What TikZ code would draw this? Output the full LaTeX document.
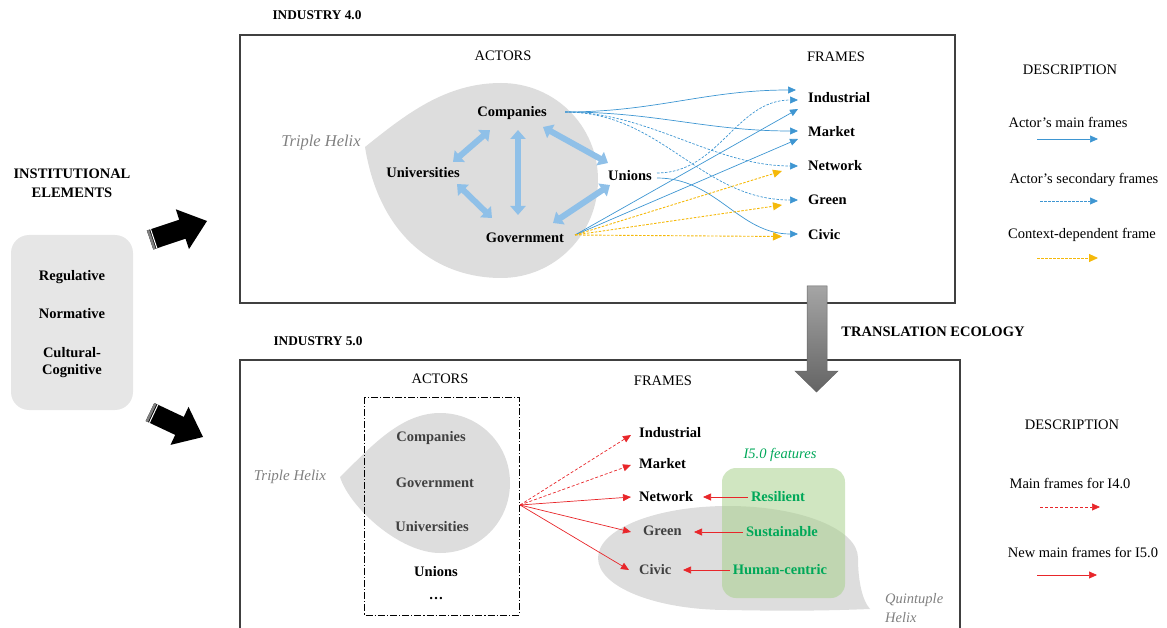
\documentclass[tikz,border=0pt]{standalone}
\usepackage{fontspec}
\setmainfont{Liberation Serif}
\usetikzlibrary{arrows.meta,calc}

\definecolor{helixgray}{RGB}{221,221,221}
\definecolor{boxgray}{RGB}{230,230,230}
\definecolor{linkblue}{RGB}{143,192,232}
\definecolor{frameblue}{RGB}{62,150,210}
\definecolor{ctxyellow}{RGB}{245,185,10}
\definecolor{newred}{RGB}{232,38,42}
\definecolor{featgreen}{RGB}{0,168,89}
\definecolor{featfill}{RGB}{169,209,142}
\definecolor{darktext}{RGB}{64,64,64}
\definecolor{helixtext}{RGB}{128,128,128}
\definecolor{framegray}{RGB}{64,64,64}
\definecolor{arrowtop}{RGB}{165,165,165}
\definecolor{arrowbot}{RGB}{100,100,100}

\tikzset{
  lbl/.style={font=\fontsize{14.5}{17}\selectfont, inner sep=0pt},
  blbl/.style={font=\fontsize{14.5}{17}\selectfont\bfseries, inner sep=0pt},
  heading/.style={font=\fontsize{13.3}{16}\selectfont\bfseries, inner sep=0pt},
  helixlbl/.style={font=\fontsize{15}{18}\selectfont\itshape, text=helixtext, inner sep=0pt},
  featlbl/.style={blbl, text=featgreen},
  link/.style={linkblue, line width=6pt,
    {Triangle[length=9pt,width=15pt]}-{Triangle[length=9pt,width=15pt]}},
  mainf/.style={frameblue, line width=0.7pt, -{Triangle[length=8pt,width=7pt]}},
  secf/.style={mainf, dash pattern=on 2.5pt off 1.5pt},
  ctxf/.style={ctxyellow, line width=0.9pt, dash pattern=on 2.5pt off 1.5pt,
    -{Triangle[length=9pt,width=8pt]}},
  redm/.style={newred, line width=0.7pt, -{Triangle[length=8pt,width=7pt]}},
  redd/.style={redm, dash pattern=on 3pt off 2pt},
  panel/.style={draw=framegray, line width=1.2pt},
}

\begin{document}
\begin{tikzpicture}[x=1pt,y=-1pt]
\useasboundingbox (0,0) rectangle (1167,628);

% ---------- panels ----------
\draw[panel] (240,35) rectangle (955,303);
\draw[panel] (240,629) -- (240,360) -- (960,360) -- (960,629);
\node[heading] (h4) at (317,15) {INDUSTRY 4.0};
\node[heading] (h5) at (318,341) {INDUSTRY 5.0};

% ---------- institutional elements ----------
\node[blbl, align=center] (inst) at (72,183) {INSTITUTIONAL\\[2pt]ELEMENTS};
\fill[boxgray, rounded corners=18pt] (11,235) rectangle (133,410);
\node[blbl] (reg) at (72,277) {Regulative};
\node[blbl] (norm) at (72,314) {Normative};
\node[blbl, align=center] (cult) at (72,363) {Cultural-\\Cognitive};

% block arrows towards the two panels
\fill[black] (146.9,230.5) -- (179.2,219.7) -- (175.8,209.3) -- (207,221)
  -- (189.0,249.1) -- (185.5,238.7) -- (153.3,249.5) -- cycle;
\fill[gray] (146.9,230.5) -- (149.3,229.7) -- (155.7,248.7) -- (153.3,249.5) -- cycle;
\draw[white, line width=1pt] (150.6,229.2) -- (156.9,248.2);
\fill[black] (154.3,403.0) -- (183.8,416.9) -- (188.5,406.9) -- (203,437)
  -- (170.5,444.9) -- (175.2,434.9) -- (145.7,421.0) -- cycle;
\fill[gray] (154.3,403.0) -- (156.5,404.1) -- (148.0,422.1) -- (145.7,421.0) -- cycle;
\draw[white, line width=1pt] (157.9,404.7) -- (149.4,422.7);

% ---------- Industry 4.0 ----------
\fill[helixgray] (365,147) .. controls (405,115) and (445,83) .. (501,83)
  .. controls (555,83) and (598,126) .. (598,180)
  .. controls (598,234) and (555,278) .. (501,278)
  .. controls (440,278) and (380,240) .. (365,147) -- cycle;
\node[helixlbl, font=\fontsize{16.5}{19}\selectfont\itshape] (th4) at (321,143) {Triple Helix};
\node[lbl] (act4) at (503,56) {ACTORS};
\node[lbl] (fr4) at (836,57) {FRAMES};

\node[blbl] (comp) at (512,113) {Companies};
\node[blbl] (univ) at (423,173) {Universities};
\node[blbl] (unio) at (630,176) {Unions};
\node[blbl] (gov) at (525,238) {Government};

\coordinate (cu1) at (490,130); \coordinate (cu2) at (453,162);
\coordinate (cg1) at (518,130); \coordinate (cg2) at (518,215);
\coordinate (cn1) at (543,127); \coordinate (cn2) at (608,163);
\coordinate (ug1) at (457,184); \coordinate (ug2) at (492,218);
\coordinate (ng1) at (610,185); \coordinate (ng2) at (553,223);
\draw[link] (cu1) -- (cu2);
\draw[link] (cg1) -- (cg2);
\draw[link] (cn1) -- (cn2);
\draw[link] (ug1) -- (ug2);
\draw[link] (ng1) -- (ng2);

\node[blbl, anchor=west] (ind4) at (808,98) {Industrial};
\node[blbl, anchor=west] (mar4) at (808,132) {Market};
\node[blbl, anchor=west] (net4) at (808,166) {Network};
\node[blbl, anchor=west] (gre4) at (808,200) {Green};
\node[blbl, anchor=west] (civ4) at (808,235) {Civic};

\coordinate (cS) at (565,112);
\coordinate (uSa) at (657,173);
\coordinate (uSb) at (657,178);
\coordinate (gS) at (575,235);

\draw[mainf] (cS) to[out=0,in=180] (796,90);
\draw[mainf] (cS) to[out=0,in=180] (798,131);
\draw[secf] (cS) to[out=0,in=180,looseness=0.9] (798,166);
\draw[secf] (cS) to[out=0,in=180] (798,200);
\draw[secf] (uSa) to[out=0,in=180] (798,100);
\draw[mainf] (uSb) to[out=0,in=180] (798,234);
\draw[mainf] (gS) -- (798,109);
\draw[mainf] (gS) -- (798,139);
\draw[ctxf] (gS) -- (782,171);
\draw[ctxf] (gS) -- (782,205);
\draw[ctxf] (gS) -- (782,236.5);

% legend of Industry 4.0
\node[lbl] (desc4) at (1070,70) {DESCRIPTION};
\node[lbl] (lg1) at (1068,122) {Actor’s main frames};
\node[lbl] (lg2) at (1084,180) {Actor’s secondary frames};
\node[lbl] (lg3) at (1082,235) {Context-dependent frame};
\draw[mainf] (1037,139) -- (1098,139);
\draw[secf] (1040,201) -- (1098,201);
\draw[ctxf] (1037,258) -- (1098,258);

% ---------- Industry 5.0 ----------
\fill[helixgray] (340,477) .. controls (370,448) and (400,413) .. (440,413)
  .. controls (479,413) and (510,444) .. (510,483)
  .. controls (510,522) and (479,553) .. (440,553)
  .. controls (400,553) and (350,508) .. (340,477) -- cycle;
\fill[helixgray] (598,558) .. controls (598,529) and (656,506) .. (728,506)
  .. controls (800,506) and (858,529) .. (858,558)
  .. controls (858,580) and (862,600) .. (870,609)
  .. controls (820,611) and (780,611) .. (728,610)
  .. controls (656,610) and (598,587) .. (598,558) -- cycle;
\fill[featfill, fill opacity=0.55, rounded corners=14pt] (722,468) rectangle (845,598);

\node[helixlbl] (th5) at (290,477) {Triple Helix};
\node[helixlbl, font=\fontsize{14.5}{17}\selectfont\itshape, anchor=west] (qh1) at (885,600) {Quintuple};
\node[helixlbl, font=\fontsize{14.5}{17}\selectfont\itshape, anchor=west] (qh2) at (885,618) {Helix};

\node[lbl] (act5) at (440,379) {ACTORS};
\node[lbl] (fr5) at (663,381) {FRAMES};
\draw[line width=1pt, dash pattern=on 7pt off 2pt on 1.2pt off 2pt] (364,397) rectangle (519,615);

\node[blbl, text=darktext] (comp5) at (431,438) {Companies};
\node[blbl, text=darktext] (gov5) at (435,483) {Government};
\node[blbl, text=darktext] (univ5) at (432,527) {Universities};
\node[blbl] (unio5) at (436,572) {Unions};
\node[blbl] (more5) at (436,599) {\ldots};

\node[blbl, anchor=west] (ind5) at (639,433) {Industrial};
\node[blbl, anchor=west] (mar5) at (639,464) {Market};
\node[blbl, anchor=west] (net5) at (639,497) {Network};
\node[blbl, anchor=west, text=darktext] (gre5) at (643,531) {Green};
\node[blbl, anchor=west, text=darktext] (civ5) at (639,570) {Civic};

\coordinate (aS) at (520,505);
\draw[redd] (aS) -- (631,435);
\draw[redd] (aS) -- (631,465);
\draw[redm] (aS) -- (631,497);
\draw[redm] (aS) -- (631,532);
\draw[redm] (aS) -- (629,570);

\node[featlbl, font=\fontsize{14.5}{17}\selectfont\itshape] (feat) at (780,455) {I5.0 features};
\node[featlbl] (res) at (778,497) {Resilient};
\node[featlbl] (sus) at (782,532) {Sustainable};
\node[featlbl] (hum) at (780,570) {Human-centric};
\draw[redm] ([xshift=-3pt]res.west) -- (703,497);
\draw[redm] ([xshift=-3pt]sus.west) -- (694,532);
\draw[redm] ([xshift=-3pt]hum.west) -- (683,570);

% legend of Industry 5.0
\node[lbl] (desc5) at (1072,425) {DESCRIPTION};
\node[lbl] (lg4) at (1070,483) {Main frames for I4.0};
\node[lbl] (lg5) at (1083,552) {New main frames for I5.0};
\draw[redd] (1040,507) -- (1100,507);
\draw[redm] (1037,575) -- (1097,575);

% ---------- translation ecology ----------
\shade[top color=arrowtop, bottom color=arrowbot, draw=arrowbot, line width=0.5pt]
  (807,286) -- (827,286) -- (827,371) -- (838,371) -- (816.5,392)
  -- (795,371) -- (807,371) -- cycle;
\node[heading, font=\fontsize{14.5}{17}\selectfont\bfseries] (trans) at (933,332) {TRANSLATION ECOLOGY};

\end{tikzpicture}
\end{document}
